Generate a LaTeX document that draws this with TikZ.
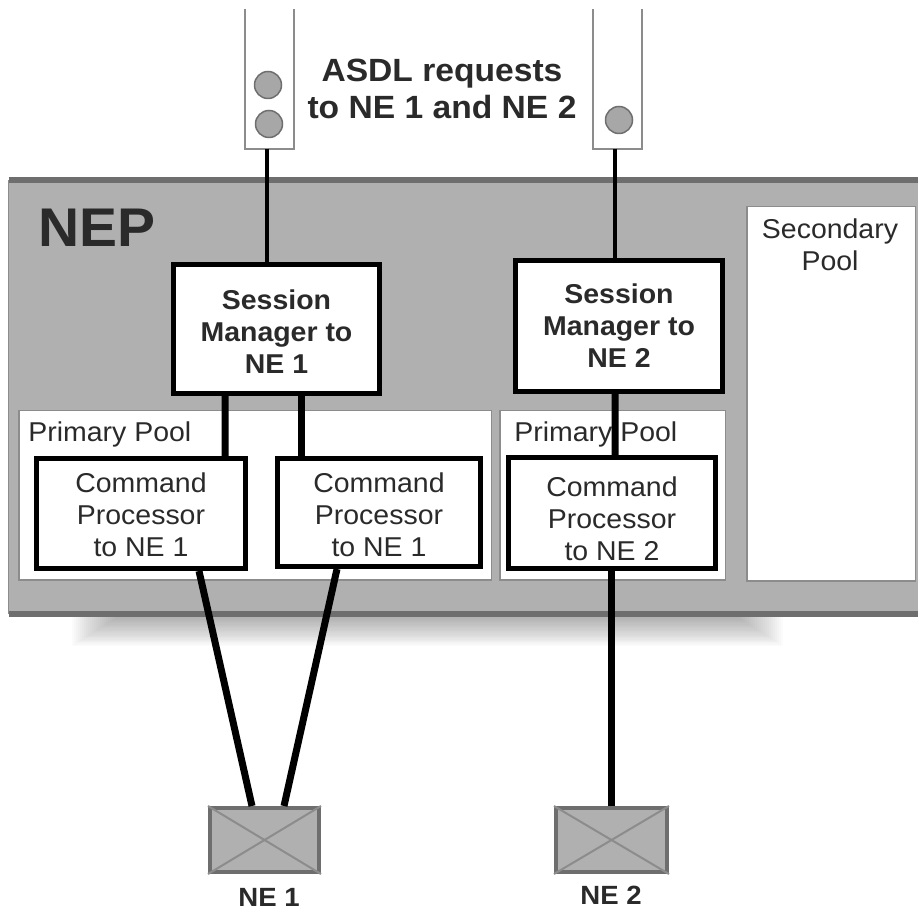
\documentclass[tikz,border=0pt]{standalone}
\usepackage{fontspec}
\setmainfont[FakeStretch=1.045]{Liberation Sans}
\definecolor{panelgray}{HTML}{B0B0B0}
\definecolor{edgegray}{HTML}{6E6E6E}
\definecolor{poolgray}{HTML}{8C8C8C}
\definecolor{inkgray}{HTML}{2A2A2A}
\newcommand{\lowerby}[1]{\rule{0pt}{#1}}
\tikzset{
  mgrbox/.style={draw=black,fill=white,line width=.1cm,align=center,text=inkgray,
    font=\fontsize{15.5}{18.2}\selectfont\bfseries},
  cmdbox/.style={draw=black,fill=white,line width=.1cm,align=center,text=inkgray,
    font=\fontsize{15.5}{18.2}\selectfont},
  poolbox/.style={draw=poolgray,fill=white,line width=.03cm},
  pooltext/.style={text=inkgray,align=center,inner sep=0pt,font=\fontsize{15.5}{18.2}\selectfont},
  queuebox/.style={minimum width=.98cm,minimum height=2.8cm,outer sep=0pt,inner sep=0pt},
  reqdot/.style={circle,draw=edgegray,fill=panelgray!95!black,line width=.03cm,minimum size=.54cm,inner sep=0pt},
  nebox/.style={draw=edgegray,fill=panelgray,line width=.08cm,minimum height=1.28cm},
  netext/.style={text=inkgray,inner sep=0pt,font=\fontsize{15}{18}\selectfont\bfseries},
  thinlink/.style={black,line width=.09cm},
  thicklink/.style={black,line width=.14cm}
}
\begin{document}
\begin{tikzpicture}
\useasboundingbox (0,0) rectangle (18.36,18.18);
%shadow under the panel
\foreach \i in {1,...,24}
  \fill[black,opacity=.015] (1.40+.04*\i,5.90) rectangle (15.70-.04*\i,5.24+.025*\i);
%panel
\fill[panelgray] (.17,5.9) rectangle (18.36,14.58);
\draw[edgegray,line width=.11cm] (.17,5.9) -- (18.36,5.9);
\draw[edgegray,line width=.12cm] (.17,14.58) -- (18.36,14.58);
\draw[poolgray,line width=.04cm] (.17,5.9) -- (.17,14.58);
\node [text=inkgray,inner sep=0pt,font=\fontsize{31}{36}\selectfont\bfseries] at (1.94,13.62) (NepTitle) {NEP};
\node [text=inkgray,align=center,inner sep=0pt,font=\fontsize{18.3}{21}\selectfont\bfseries] at (8.84,16.4) (ReqTitle) {ASDL requests\\to NE 1 and NE 2};
%pools
\node [poolbox,minimum width=9.45cm,minimum height=3.39cm] at (5.10,8.27) (PrimaryPool1) {};
\node [poolbox,minimum width=4.51cm,minimum height=3.39cm] at (12.25,8.27) (PrimaryPool2) {};
\node [poolbox,minimum width=3.37cm,minimum height=7.49cm] at (16.62,10.30) (SecondaryPool) {};
\node [pooltext,anchor=west] at (.56,9.50) (PoolText1) {Primary Pool};
\node [pooltext,anchor=west] at (10.28,9.50) (PoolText2) {Primary Pool};
\node [pooltext] at (16.6,13.28) (PoolText3) {Secondary\\Pool};
%queues
\node [queuebox] at (5.39,16.6) (Queue1) {};
\node [queuebox] at (12.35,16.6) (Queue2) {};
\draw[poolgray,line width=.03cm] (Queue1.north west) |- (Queue1.south east) -- (Queue1.north east);
\draw[poolgray,line width=.03cm] (Queue2.north west) |- (Queue2.south east) -- (Queue2.north east);
\node [reqdot] at (5.36,16.48) (Dot1) {};
\node [reqdot] at (5.38,15.70) (Dot2) {};
\node [reqdot] at (12.38,15.78) (Dot3) {};
%boxes
\node [mgrbox,minimum width=4.12cm,minimum height=2.58cm] at (5.53,11.60) (SessionMgr1) {\lowerby{14pt}Session\\Manager to\\NE 1};
\node [mgrbox,minimum width=4.14cm,minimum height=2.62cm] at (12.38,11.66) (SessionMgr2) {Session\\Manager to\\NE 2};
\node [cmdbox,minimum width=4.18cm,minimum height=2.20cm] at (2.82,7.91) (CmdProc1) {\lowerby{13pt}Command\\Processor\\to NE 1};
\node [cmdbox,minimum width=4.06cm,minimum height=2.16cm] at (7.58,7.93) (CmdProc2) {\lowerby{14pt}Command\\Processor\\to NE 1};
\node [cmdbox,minimum width=4.14cm,minimum height=2.22cm] at (12.24,7.92) (CmdProc3) {\lowerby{18pt}Command\\Processor\\to NE 2};
\node [nebox,minimum width=2.18cm] at (5.29,1.38) (NetElem1) {};
\node [nebox,minimum width=2.22cm] at (12.23,1.38) (NetElem2) {};
\draw[poolgray,line width=.04cm] (NetElem1.north west) -- (NetElem1.south east);
\draw[poolgray,line width=.04cm] (NetElem1.south west) -- (NetElem1.north east);
\draw[poolgray,line width=.04cm] (NetElem2.north west) -- (NetElem2.south east);
\draw[poolgray,line width=.04cm] (NetElem2.south west) -- (NetElem2.north east);
\node [netext] at (5.38,.24) (NetText1) {NE 1};
\node [netext] at (12.22,.28) (NetText2) {NE 2};
%links
\draw[thinlink] ([xshift=-.05cm]Queue1.south) -- ([xshift=-.19cm]SessionMgr1.north);
\draw[thinlink] ([xshift=-.05cm]Queue2.south) -- ([xshift=-.08cm]SessionMgr2.north);
\draw[thicklink] ([xshift=-1.03cm]SessionMgr1.south) -- ([xshift=1.68cm]CmdProc1.north);
\draw[thicklink] ([xshift=.49cm]SessionMgr1.south) -- ([xshift=-1.56cm]CmdProc2.north);
\draw[thicklink] ([xshift=-.08cm]SessionMgr2.south) -- ([xshift=.06cm]CmdProc3.north);
\draw[thicklink] ([xshift=1.16cm]CmdProc1.south) -- ([xshift=-.25cm]NetElem1.north);
\draw[thicklink] ([xshift=-.84cm]CmdProc2.south) -- ([xshift=.39cm]NetElem1.north);
\draw[thicklink] ([xshift=-.02cm]CmdProc3.south) -- ([xshift=-.01cm]NetElem2.north);
\end{tikzpicture}
\end{document}
